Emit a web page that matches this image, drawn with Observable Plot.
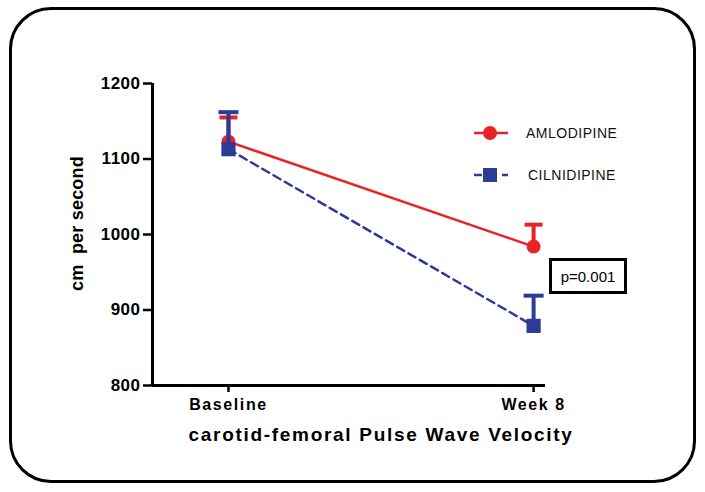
<!DOCTYPE html>
<html><head><meta charset="utf-8">
<script src="https://cdn.jsdelivr.net/npm/d3@7"></script>
<script src="https://cdn.jsdelivr.net/npm/@observablehq/plot@0.6"></script>
<style>
body{margin:0;background:#fff;font-family:"Liberation Sans",Arial,sans-serif;}
#wrap{position:relative;width:705px;height:492px;}
#border{position:absolute;left:9px;top:7px;width:681px;height:470px;border:3px solid #000;border-radius:42px;pointer-events:none;}
.leg{position:absolute;font-size:14px;color:#111;display:flex;align-items:center;letter-spacing:0.5px;}
#pbox{position:absolute;left:549px;top:258px;width:72px;height:30px;border:3px solid #000;font-size:15px;display:flex;align-items:center;justify-content:center;}
g[aria-label="y-axis tick label"]{font-size:17px;font-weight:bold;letter-spacing:0.5px;}
g[aria-label="x-axis tick label"]{font-size:16px;font-weight:bold;letter-spacing:1.6px;}
</style></head>
<body><div id="wrap"><div id="border"></div></div>
<script>
const timepoints = ["Baseline", "Week 8"];
const amlodipine = [1123, 984];
const amlodipineErr = [32, 29];
const cilnidipine = [1113, 879];
const cilnidipineErr = [49, 40];
const yTicks = [800, 900, 1000, 1100, 1200];
const seriesNames = ["AMLODIPINE", "CILNIDIPINE"];
const yLabel = "cm  per second";
const xLabel = "carotid-femoral Pulse Wave Velocity";
const pLabel = "p=0.001";

const RED = "#ea2228", BLUE = "#2c3b98";
const xDomain = [-0.249, 1.039], yDomain = [800, 1200];

const rows = (vals, errs) => vals.map((v, i) => ({i, v, top: v + errs[i]}));
const A = rows(amlodipine, amlodipineErr), C = rows(cilnidipine, cilnidipineErr);
const cap = {draw(ctx, size){ const w = Math.sqrt(size/Math.PI); ctx.moveTo(-w,0); ctx.lineTo(w,0);} };

const chart = Plot.plot({
  width: 705, height: 492,
  marginLeft: 152, marginRight: 160, marginTop: 83, marginBottom: 107,
  x: {domain: xDomain},
  y: {domain: yDomain},
  style: {fontFamily: '"Liberation Sans", Arial, sans-serif', color: "#000", background: "transparent"},
  marks: [
    Plot.axisY({ticks: yTicks, tickFormat: d3.format("d"), tickSize: 9, tickPadding: 3, strokeWidth: 2.5, label: null}),
    Plot.axisX({ticks: [0, 1], tickFormat: i => timepoints[i], tickSize: 7, tickPadding: 6, strokeWidth: 2.5, label: null}),
    Plot.ruleX([xDomain[0]], {stroke: "#000", strokeWidth: 3}),
    Plot.ruleY([yDomain[0]], {stroke: "#000", strokeWidth: 3}),
    // Amlodipine
    Plot.ruleX(A, {x: "i", y1: "v", y2: "top", stroke: RED, strokeWidth: 4}),
    Plot.dot(A, {x: "i", y: "top", symbol: cap, r: 9, stroke: RED, strokeWidth: 4, fill: "none"}),
    Plot.line(A, {x: "i", y: "v", stroke: RED, strokeWidth: 2.5}),
    Plot.dot(A, {x: "i", y: "v", r: 7, fill: RED, stroke: "none"}),
    // Cilnidipine
    Plot.ruleX(C, {x: "i", y1: "v", y2: "top", stroke: BLUE, strokeWidth: 4}),
    Plot.dot(C, {x: "i", y: "top", symbol: cap, r: 10, stroke: BLUE, strokeWidth: 4, fill: "none"}),
    Plot.line(C, {x: "i", y: "v", stroke: BLUE, strokeWidth: 2.5, strokeDasharray: "8,5"}),
    Plot.dot(C, {x: "i", y: "v", r: 8, symbol: "square", fill: BLUE, stroke: "none"}),
    // axis titles
    Plot.text([yLabel], {frameAnchor: "left", textAnchor: "middle", rotate: -90, dx: -75, dy: -11, fontSize: 18, fontWeight: "bold", text: d => d}),
    Plot.text([xLabel], {frameAnchor: "bottom-left", textAnchor: "start", dx: 36, dy: 55, fontSize: 19, fontWeight: "bold", text: d => d})
  ]
});
chart.querySelectorAll("text").forEach(t => {
  if (t.textContent === xLabel) t.style.letterSpacing = "1.7px";
  if (t.textContent === yLabel) t.style.letterSpacing = "0.2px";
});
const wrap = document.getElementById("wrap");
chart.style.position = "absolute"; chart.style.left = "0"; chart.style.top = "0";
wrap.insertBefore(chart, wrap.firstChild);

function legend(name, color, dashed, square, top) {
  const d = document.createElement("div");
  d.className = "leg"; d.style.left = "472px"; d.style.top = (top - 12) + "px";
  const sym = square ? `<rect x="11" y="5" width="14" height="14" fill="${color}"/>`
                     : `<circle cx="18" cy="12" r="7" fill="${color}"/>`;
  d.innerHTML = `<svg width="40" height="24"><line x1="2" x2="36" y1="12" y2="12" stroke="${color}" stroke-width="2.5" ${dashed ? 'stroke-dasharray="8,6"' : ''}/>${sym}</svg><span style="margin-left:${square?16:14}px">${name}</span>`;
  wrap.appendChild(d);
}
legend(seriesNames[0], RED, false, false, 133);
legend(seriesNames[1], BLUE, true, true, 175);
const p = document.createElement("div"); p.id = "pbox"; p.textContent = pLabel; wrap.appendChild(p);
</script></body></html>
